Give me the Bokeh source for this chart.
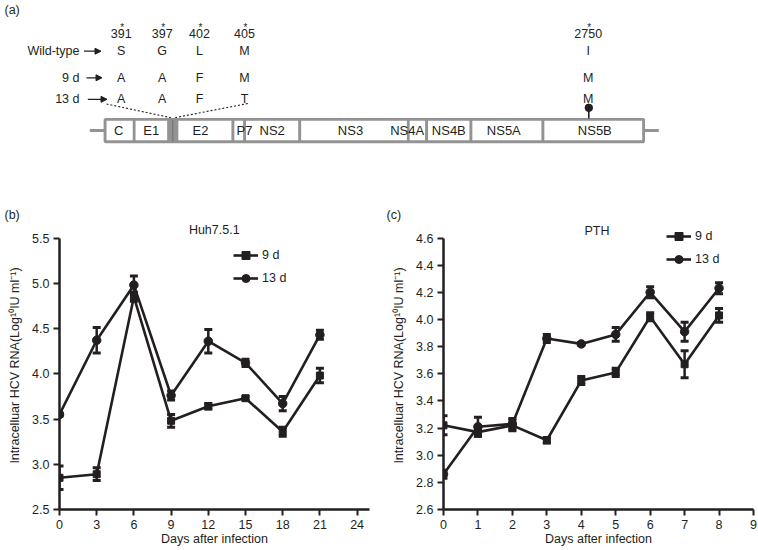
from bokeh.plotting import figure
from bokeh.models import (Range1d, ColumnDataSource, Whisker, TeeHead, Legend, LegendItem,
                          FixedTicker, NumeralTickFormatter, Label, Arrow, NormalHead, Title)
from bokeh.layouts import column, row
from bokeh.embed import file_html
from bokeh.resources import INLINE
from bokeh.core.properties import value

FONT = "Liberation Sans"
INK = "#231f20"
GRAY = "#939393"

# ---------------- data: panel (a) ----------------
positions = ["391", "397", "402", "405", "2750"]
wild_type = ["S", "G", "L", "M", "I"]
mut_9d = ["A", "A", "F", "M", "M"]
mut_13d = ["A", "A", "F", "T", "M"]
row_labels = ["Wild-type", "9 d", "13 d"]
proteins = ["C", "E1", "E2", "P7", "NS2", "NS3", "NS4A", "NS4B", "NS5A", "NS5B"]

# ---------------- data: panel (b) Huh7.5.1 ----------------
b_days = [0, 3, 6, 9, 12, 15, 18, 21]
b_9d = [2.85, 2.89, 4.85, 3.48, 3.64, 3.73, 3.36, 3.98]
b_9d_err = [0.13, 0.07, 0.05, 0.07, 0.03, 0.02, 0.05, 0.08]
b_13d = [3.55, 4.37, 4.98, 3.76, 4.36, 4.12, 3.67, 4.43]
b_13d_err = [0.02, 0.14, 0.10, 0.05, 0.13, 0.04, 0.08, 0.05]
b_xticks = [0, 3, 6, 9, 12, 15, 18, 21, 24]
b_yticks = [2.5, 3.0, 3.5, 4.0, 4.5, 5.0, 5.5]

# ---------------- data: panel (c) PTH ----------------
c_days = [0, 1, 2, 3, 4, 5, 6, 7, 8]
c_9d = [3.22, 3.17, 3.22, 3.11, 3.55, 3.61, 4.02, 3.67, 4.03]
c_9d_err = [0.07, 0.03, 0.04, 0.02, 0.03, 0.03, 0.03, 0.10, 0.05]
c_13d = [2.86, 3.21, 3.23, 3.86, 3.82, 3.89, 4.20, 3.91, 4.23]
c_13d_err = [0.03, 0.07, 0.04, 0.03, 0.01, 0.05, 0.04, 0.07, 0.04]
c_xticks = [0, 1, 2, 3, 4, 5, 6, 7, 8, 9]
c_yticks = [2.6, 2.8, 3.0, 3.2, 3.4, 3.6, 3.8, 4.0, 4.2, 4.4, 4.6]

YLABEL = "Intracelluar HCV RNA(Log\u00b9\u2070IU ml\u207b\u00b9)"
XLABEL = "Days after infection"

# =============== panel (a): schematic ===============
W, H = 758, 550
H_A = 160
pa = figure(width=W, height=H_A, x_range=Range1d(0, W), y_range=Range1d(H_A, 0),
            x_axis_type=None, y_axis_type=None, output_backend="svg", toolbar_location=None,
            min_border=0, min_border_left=0, min_border_right=0, min_border_top=0, min_border_bottom=0)
pa.grid.visible = False
pa.outline_line_color = None

col_x = [120.7, 161.7, 199.0, 244.0, 587.7]
row_y = [50.7, 77.3, 98.8]
ts = dict(text_font=value(FONT), text_color=INK, text_font_size="12.5px")

pa.text(x=[4], y=[9.5], text=["(a)"], text_align="left", text_baseline="middle", **ts)
pa.text(x=col_x, y=[32.5] * 5, text=positions, text_align="center", text_baseline="middle", **ts)
pa.text(x=[c + 1.0 for c in col_x], y=[26.5] * 5, text=["*"] * 5, text_align="center",
        text_baseline="alphabetic", text_font=value(FONT), text_color=INK, text_font_size="10px")
for letters, yy in zip([wild_type, mut_9d, mut_13d], row_y):
    pa.text(x=col_x, y=[yy] * 5, text=letters, text_align="center", text_baseline="middle", **ts)
pa.text(x=[79, 79, 79], y=row_y, text=row_labels, text_align="right", text_baseline="middle", **ts)

arr_src = ColumnDataSource(dict(x0=[83.5, 86.0, 87.3], x1=[100.5, 101.5, 106.5], y=row_y))
pa.add_layout(Arrow(end=NormalHead(size=6, fill_color=INK, line_color=INK, line_width=1),
                    x_start="x0", y_start="y", x_end="x1", y_end="y",
                    line_color=INK, line_width=1.3, source=arr_src))

# dotted connectors
pa.segment(x0=[106, 247.3], y0=[103.5, 103.0], x1=[172.0, 173.0], y1=[117.5, 117.5],
           line_color=INK, line_width=1.1, line_dash="2 2")

# genome backbone
pa.segment(x0=[89.3], y0=[130], x1=[658.3], y1=[130], line_color=GRAY, line_width=3)
seg_l = [104.7, 133.7, 176.5, 232.5, 244.2, 299.3, 407.8, 426.2, 470.5, 542.5]
seg_r = [133.7, 168.0, 232.5, 244.2, 299.3, 407.8, 426.2, 470.5, 542.5, 643.0]
pa.quad(left=[104.7], right=[643.0], top=[119.0], bottom=[141.2], fill_color="white",
        line_color=GRAY, line_width=3)
pa.quad(left=seg_l, right=seg_r, top=[119.0] * 10, bottom=[141.2] * 10, fill_color="white",
        line_color=GRAY, line_width=2.7)
pa.quad(left=[168.0], right=[176.5], top=[119.0], bottom=[141.2], fill_color=GRAY,
        line_color=GRAY, line_width=1)
pa.segment(x0=[172.2], y0=[119], x1=[172.2], y1=[141.2], line_color="#7a7a7a", line_width=1.5)
lab_x = [118.3, 150.7, 200.0, 244.0, 271.7, 350.0, 406.7, 448.3, 503.3, 594.3]
pa.text(x=lab_x, y=[130.3] * 10, text=proteins, text_align="center", text_baseline="middle",
        text_font=value(FONT), text_color=INK, text_font_size="13px")

# lollipop on NS5B
pa.segment(x0=[588.3], y0=[107.5], x1=[588.3], y1=[118.0], line_color=INK, line_width=1.6)
pa.scatter(x=[588.3], y=[107.3], size=7.5, marker="circle", fill_color=INK, line_color=INK)


# =============== panels (b) and (c) ===============
H_BC = H - H_A
FRAME_TOP, FRAME_BOT = 221, 509          # page pixels of frame edges
MB_TOP = FRAME_TOP - H_A
MB_BOT = H - FRAME_BOT
AXIS_TOP_PX = 237.5                      # where the top tick sits


def make_panel(days, s9, e9, s13, e13, xr, ybounds, xticks, yticks, width, mb_left, mb_right,
               tag, tag_offset, title, title_x, title_y, legend_loc):
    per_unit = (FRAME_BOT - AXIS_TOP_PX) / (ybounds[1] - ybounds[0])
    ytop = ybounds[0] + (FRAME_BOT - FRAME_TOP) / per_unit
    p = figure(width=width, height=H_BC, x_range=Range1d(*xr), y_range=Range1d(ybounds[0], ytop),
               output_backend="svg", toolbar_location=None,
               min_border_left=mb_left, min_border_right=mb_right,
               min_border_top=MB_TOP, min_border_bottom=MB_BOT)
    p.grid.visible = False
    p.outline_line_color = None
    p.title = Title(text=tag, align="left", offset=tag_offset, standoff=0, text_font=FONT,
                    text_font_size="12.5px", text_font_style="normal", text_color=INK)

    for ax in (p.xaxis, p.yaxis):
        ax.axis_line_width = 2.5
        ax.axis_line_color = INK
        ax.major_tick_line_width = 2
        ax.major_tick_line_color = INK
        ax.major_tick_out = 6
        ax.major_tick_in = 0
        ax.minor_tick_out = 0
        ax.minor_tick_in = 0
        ax.major_label_text_font = FONT
        ax.major_label_text_font_size = "12.5px"
        ax.major_label_text_color = INK
        ax.major_label_standoff = 4
        ax.axis_label_text_font = FONT
        ax.axis_label_text_font_size = "12.5px"
        ax.axis_label_text_font_style = "normal"
        ax.axis_label_text_color = INK
    p.yaxis.bounds = ybounds
    p.xaxis.ticker = FixedTicker(ticks=xticks)
    p.yaxis.ticker = FixedTicker(ticks=yticks)
    p.yaxis.formatter = NumeralTickFormatter(format="0.0")
    p.xaxis.axis_label = XLABEL
    p.yaxis.axis_label = YLABEL
    p.xaxis.axis_label_standoff = 0
    p.yaxis.axis_label_standoff = 7

    src9 = ColumnDataSource(dict(x=days, y=s9, lo=[a - b for a, b in zip(s9, e9)],
                                 hi=[a + b for a, b in zip(s9, e9)]))
    src13 = ColumnDataSource(dict(x=days, y=s13, lo=[a - b for a, b in zip(s13, e13)],
                                  hi=[a + b for a, b in zip(s13, e13)]))
    l9 = p.line("x", "y", source=src9, line_color=INK, line_width=2.6)
    l13 = p.line("x", "y", source=src13, line_color=INK, line_width=2.6)
    for src in (src9, src13):
        p.add_layout(Whisker(base="x", upper="hi", lower="lo", source=src, line_color=INK,
                             line_width=2.5, level="glyph",
                             upper_head=TeeHead(size=8, line_width=3, line_color=INK),
                             lower_head=TeeHead(size=8, line_width=3, line_color=INK)))
    m9 = p.scatter("x", "y", source=src9, marker="square", size=7, fill_color=INK, line_color=INK)
    m13 = p.scatter("x", "y", source=src13, marker="circle", size=8.5, fill_color=INK, line_color=INK)

    leg = Legend(items=[LegendItem(label="9 d", renderers=[l9, m9]),
                        LegendItem(label="13 d", renderers=[l13, m13])],
                 location=legend_loc, padding=0, margin=0, border_line_color=None,
                 background_fill_alpha=0, label_text_font=FONT, label_text_font_size="12.5px",
                 label_text_color=INK, glyph_width=25, glyph_height=20, label_height=20,
                 spacing=3, label_standoff=4)
    p.add_layout(leg)

    p.add_layout(Label(x=title_x, y=title_y, text=title, text_align="center",
                       text_baseline="middle", text_font=FONT, text_font_size="12.5px",
                       text_color=INK))
    return p


pb = make_panel(b_days, b_9d, b_9d_err, b_13d, b_13d_err, (0, 25), (2.5, 5.5), b_xticks, b_yticks,
                380, 59, 11, "(b)", -55, "Huh7.5.1", 12.48, 5.588, (174, 221))
pc = make_panel(c_days, c_9d, c_9d_err, c_13d, c_13d_err, (0, 9), (2.6, 4.6), c_xticks, c_yticks,
                378, 63, 5, "(c)", -57, "PTH", 4.457, 4.650, (223, 240))

layout = column(pa, row(pb, pc, spacing=0), spacing=0)
open("out.html", "w").write(file_html(layout, INLINE))
